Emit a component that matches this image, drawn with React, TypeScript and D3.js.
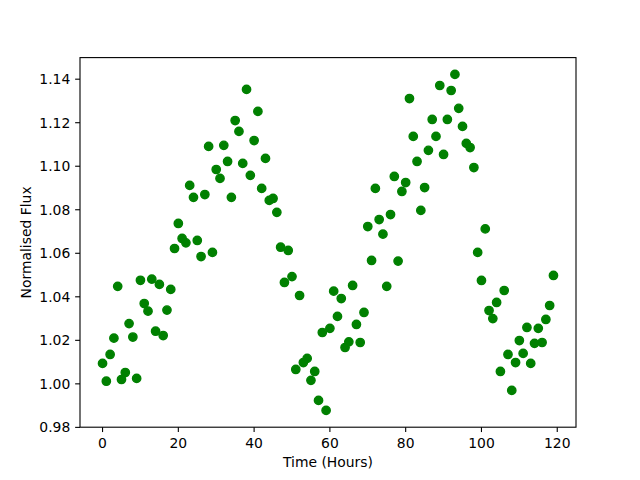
import * as d3 from "d3";

// hours 0..119, one reading per hour
const hours = d3.range(0, 120);

const flux = [
  1.0094, 1.0012, 1.0135, 1.021, 1.0448, 1.002, 1.0052, 1.0277, 1.0215, 1.0025,
  1.0476, 1.0369, 1.0334, 1.0481, 1.0242, 1.0457, 1.0222, 1.0339, 1.0434, 1.0622,
  1.0737, 1.0668, 1.0648, 1.0912, 1.0857, 1.0659, 1.0585, 1.087, 1.1091, 1.0604,
  1.0985, 1.0944, 1.1096, 1.1022, 1.0857, 1.121, 1.116, 1.1013, 1.1353, 1.0958,
  1.1118, 1.1252, 1.0898, 1.1036, 1.0843, 1.0852, 1.0788, 1.0628, 1.0466, 1.0613,
  1.0493, 1.0066, 1.0406, 1.0098, 1.0117, 1.0016, 1.0057, 0.9924, 1.0236, 0.9878,
  1.0255, 1.0426, 1.031, 1.0392, 1.0167, 1.0193, 1.0452, 1.0273, 1.019, 1.0328,
  1.0723, 1.0567, 1.0898, 1.0755, 1.0688, 1.0448, 1.0778, 1.0953, 1.0564, 1.0884,
  1.0925, 1.1311, 1.1137, 1.1022, 1.0797, 1.0902, 1.1073, 1.1215, 1.1137, 1.1371,
  1.1054, 1.1215, 1.1348, 1.1422, 1.1266, 1.1183, 1.1105, 1.1086, 1.0994, 1.0604,
  1.0475, 1.0712, 1.0337, 1.03, 1.0374, 1.0057, 1.0429, 1.0135, 0.997, 1.0098,
  1.0199, 1.014, 1.0259, 1.0094, 1.0186, 1.0255, 1.019, 1.0296, 1.036, 1.0498,
];

const xTicks = [0, 20, 40, 60, 80, 100, 120];
const yTicks = [0.98, 1.0, 1.02, 1.04, 1.06, 1.08, 1.1, 1.12, 1.14];

const W = 640;
const H = 480;
const margin = { top: 57.6, right: 64, bottom: 52.8, left: 80 };
const font = "DejaVu Sans, sans-serif";
const tickLen = 4.86;

// matplotlib style 5% padding around the data
const pad = (ext: [number, number]) => {
  const r = ext[1] - ext[0];
  return [ext[0] - r * 0.05, ext[1] + r * 0.05];
};

const App = () => {
  const width = W - margin.left - margin.right;
  const height = H - margin.top - margin.bottom;

  const x = d3
    .scaleLinear()
    .domain(pad(d3.extent(hours) as [number, number]))
    .range([0, width]);

  const y = d3
    .scaleLinear()
    .domain(pad(d3.extent(flux) as [number, number]))
    .range([height, 0]);

  return (
    <svg
      width={W}
      height={H}
      style={{ position: "absolute", left: 0, top: 0, background: "#fff" }}
      fontFamily={font}
    >
      <rect width={W} height={H} fill="#fff" />
      <g transform={`translate(${margin.left},${margin.top})`}>
        <g>
          {hours.map((h, i) => (
            <circle
              key={i}
              cx={x(h)}
              cy={y(flux[i])}
              r={4.17}
              fill="#008000"
              stroke="#008000"
              strokeWidth={1.39}
            />
          ))}
        </g>
        <rect
          width={width}
          height={height}
          fill="none"
          stroke="#000"
          strokeWidth={1.1}
        />
        {xTicks.map((t) => (
          <g key={t} transform={`translate(${x(t)},${height})`}>
            <line y2={tickLen} stroke="#000" strokeWidth={1.1} />
            <text
              y={tickLen + 4.86 + 11}
              textAnchor="middle"
              fontSize={13.9}
              fill="#000"
            >
              {t}
            </text>
          </g>
        ))}
        {yTicks.map((t) => (
          <g key={t} transform={`translate(0,${y(t)})`}>
            <line x2={-tickLen} stroke="#000" strokeWidth={1.1} />
            <text
              x={-tickLen - 4.86}
              dy="0.35em"
              textAnchor="end"
              fontSize={13.9}
              fill="#000"
            >
              {t.toFixed(2)}
            </text>
          </g>
        ))}
        <text
          x={width / 2}
          y={height + 40}
          textAnchor="middle"
          fontSize={13.9}
          fill="#000"
        >
          Time (Hours)
        </text>
        <text
          transform={`translate(${-49},${height / 2}) rotate(-90)`}
          textAnchor="middle"
          fontSize={13.9}
          fill="#000"
        >
          Normalised Flux
        </text>
      </g>
    </svg>
  );
};

export default App;
